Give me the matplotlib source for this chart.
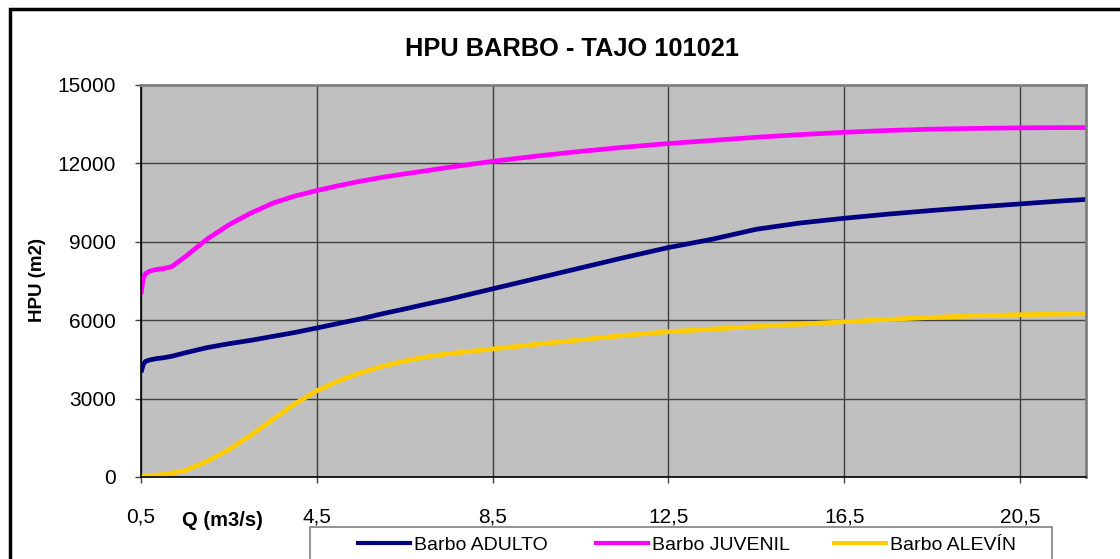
import matplotlib
matplotlib.use('Agg')
import matplotlib.pyplot as plt
from matplotlib.patches import Rectangle
from matplotlib.lines import Line2D

plt.rcParams['font.family'] = ['Liberation Sans', 'DejaVu Sans']

# datos
q = [0.5, 0.55, 0.6, 0.7, 0.85, 1.0, 1.2, 1.5, 2.0, 2.5, 3.0, 3.5, 4.0, 4.5,
     5.0, 5.5, 6.0, 6.5, 7.0, 7.5, 8.5, 9.5, 10.5, 11.5, 12.5, 13.5, 14.5,
     15.5, 16.5, 17.5, 18.5, 19.5, 20.5, 21.5, 22.0]
adulto = [4000, 4300, 4420, 4480, 4530, 4560, 4620, 4750, 4950, 5100, 5230,
          5380, 5530, 5700, 5880, 6050, 6250, 6430, 6620, 6800, 7200, 7600,
          8000, 8400, 8780, 9100, 9480, 9720, 9900, 10060, 10200, 10330,
          10450, 10570, 10620]
juvenil = [7000, 7600, 7780, 7880, 7940, 7970, 8050, 8420, 9100, 9650, 10100,
           10480, 10750, 10960, 11150, 11320, 11470, 11600, 11720, 11850,
           12080, 12280, 12460, 12620, 12760, 12880, 13000, 13100, 13190,
           13260, 13310, 13340, 13360, 13370, 13370]
alevin = [30, 35, 40, 50, 70, 100, 150, 250, 600, 1050, 1600, 2200, 2800,
          3300, 3680, 3990, 4240, 4440, 4600, 4720, 4900, 5080, 5250, 5420,
          5560, 5660, 5760, 5850, 5940, 6030, 6110, 6170, 6210, 6240, 6250]
series = ['Barbo ADULTO', 'Barbo JUVENIL', 'Barbo ALEVÍN']
colores = ['#000080', '#ff00ff', '#ffcc00']
xticks = [0.5, 4.5, 8.5, 12.5, 16.5, 20.5]
xticklabels = ['0,5', '4,5', '8,5', '12,5', '16,5', '20,5']
yticks = [0, 3000, 6000, 9000, 12000, 15000]

W, H = 1120, 559
fig = plt.figure(figsize=(W/100, H/100), dpi=100)
ax = fig.add_axes([141/W, 1-477/H, 945/W, 392/H])
ax.set_facecolor('#c0c0c0')

for datos, nombre, c in zip([adulto, juvenil, alevin], series, colores):
    ax.plot(q, datos, color=c, lw=3.4, label=nombre, solid_capstyle='butt',
            solid_joinstyle='round')

ax.set_xlim(0.5, 22.0)
ax.set_ylim(0, 15000)
ax.set_xticks(xticks)
ax.set_xticklabels(xticklabels)
ax.set_yticks(yticks)
ax.grid(True, color='#404040', lw=1)
ax.set_axisbelow(True)
ax.tick_params(direction='out', length=4, width=1, color='#404040',
               labelsize=15, pad=14)
ax.tick_params(axis='x', pad=18)
for s in ['top', 'right']:
    ax.spines[s].set_color('#808080')
    ax.spines[s].set_linewidth(2)
for s in ['left', 'bottom']:
    ax.spines[s].set_color('black')
    ax.spines[s].set_linewidth(1.2)

fig.text(572/W, 1-49/H, 'HPU BARBO - TAJO 101021', ha='center', va='center',
         fontsize=18.3, fontweight='bold')
fig.text(37/W, 1-280/H, 'HPU (m2)', ha='center', va='center',
         rotation=90, fontsize=13.5, fontweight='bold')
fig.text(222/W, 1-520/H, 'Q (m3/s)', ha='center', va='center',
         fontsize=14.5, fontweight='bold')

# leyenda (cortada abajo)
fig.patches.append(Rectangle((310/W, -0.1), 742/W, 0.1+1-527/H, transform=fig.transFigure,
                             facecolor='white', edgecolor='#808080', lw=1.2, clip_on=False))
for i, (nombre, c) in enumerate(zip(series, colores)):
    x0 = 358 + i*238
    fig.lines.append(Line2D([x0/W, (x0+52)/W], [1-543/H, 1-543/H], color=c, lw=3,
                            transform=fig.transFigure))
    fig.text((x0+56)/W, 1-545/H, nombre, ha='left', va='center', fontsize=14)

# marco exterior
fig.patches.append(Rectangle((10/W, -0.2), 1.2, 1-9/H+0.2, transform=fig.transFigure,
                             fill=False, edgecolor='black', lw=2.5, clip_on=False))

fig.savefig('out.png', dpi=100)
